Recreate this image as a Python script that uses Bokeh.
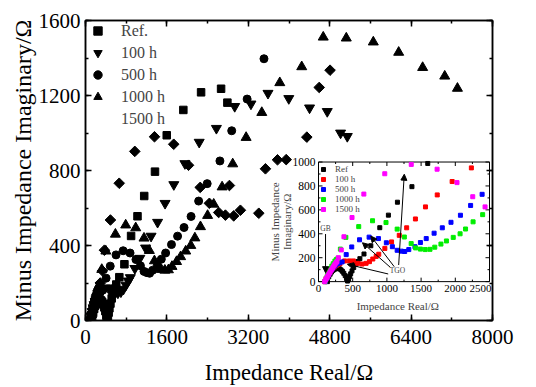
import math
from bokeh.plotting import figure
from bokeh.models import (Legend, LegendItem, LinearAxis, SingleIntervalTicker,
                          CustomJSTickFormatter, Range1d, Label, Arrow, NormalHead)
from bokeh.embed import file_html
from bokeh.resources import INLINE

# ---------------- data (Z' , -Z'') in ohm ----------------
ref_x = [130,150,170,190,210,230,250,270,290,310,330,350,370,390,410,425,440,455,470,490,515,545,575,605,665,765,896,1022,1154,1366,1597,1923,2272,2665,2789]
ref_y = [0,40,62,80,93,102,108,110,110,106,98,86,70,50,25,5,20,42,65,90,118,145,168,192,231,300,451,556,664,794,988,1123,1217,1236,1162]

h100_x = [90,110,130,150,170,190,210,235,260,285,314,382,451,510,573,637,696,745,794,843,881,970,1068,1181,1289,1417,1564,1736,1954,2235,2573,2933,3252,3587,3996,4404,4752,5014,5146]
h100_y = [0,25,48,68,85,100,112,124,134,143,150,173,173,173,153,147,153,167,189,211,229,278,332,387,450,524,625,725,837,951,1025,1142,1155,1212,1184,1134,1115,1000,982]

h500_x = [100,120,140,160,180,200,225,250,280,310,345,405,486,600,740,876,992,1080,1150,1210,1260,1320,1410,1490,1575,1690,1810,1937,2075,2224,2392,2642,2874,3177,3508]
h500_y = [0,28,52,74,92,108,124,138,150,158,165,226,290,350,372,360,325,292,262,255,252,268,292,327,360,405,450,496,555,637,730,851,1012,1181,1396]

h1000_x = [95,115,135,155,175,195,215,240,262,285,320,400,588,790,987,1150,1255,1355,1420,1490,1560,1630,1700,1790,1870,1970,2070,2150,2260,2400,2520,2685,2894,3157,3465,3819,4250,4673,5126,5657,6156,6627,7061,7311]
h1000_y = [0,30,58,84,108,130,150,172,185,195,272,370,460,509,494,439,373,318,282,272,268,270,288,314,340,370,400,440,500,560,620,712,835,976,1109,1268,1353,1511,1506,1485,1430,1349,1303,1238]

h1500_x = [90,105,120,135,150,165,180,195,210,225,240,255,270,290,333,372,490,663,969,1356,1734,2025,2255,2435,2618,2750,2829,2913,3045,3406,3537,3774,3945,4350,4594,4807]
h1500_y = [0,15,30,45,60,75,90,104,118,132,145,157,167,200,265,375,536,732,902,980,940,828,710,625,576,562,720,558,588,572,809,857,858,978,1243,1335]

main_labels = ["Ref.", "100 h", "500 h", "1000 h", "1500 h"]
inset_labels = ["Ref", "100 h", "500 h", "1000 h", "1500 h"]
inset_colors = ["#000000", "#ff0000", "#0000ff", "#00ee00", "#ff00ff"]

inset_xticks = [0, 500, 1000, 1500, 2000, 2500]
inset_yticks = [0, 200, 400, 600, 800, 1000]

# inset annotations (inset data coordinates)
gb_text = ("GB", 103, 446)
gb_arrow = (103, 398, 103, 75)
tgo_text = ("TGO", 1154, 89)
tgo_arrows = [(1019, 64, 422, 145), (1049, 120, 643, 325), (1107, 125, 765, 381), (1172, 139, 1254, 898)]

FONT = "Liberation Serif"

# ---------------- geometry ----------------
W, H = 536, 387
BL, BT, BB = 85, 20, 66
FW = 407
BR = W - BL - FW
FH = H - BT - BB
# inset frame in pixels, relative to the main frame (left, top, width, height)
IN_L, IN_T, IN_W, IN_H = 233, 142, 171, 120
ix0, ix1 = inset_xticks[0], inset_xticks[-1]
iy0, iy1 = inset_yticks[0], inset_yticks[-1]
ux = (ix1 - ix0) / IN_W          # ohm per pixel in the inset
uy = (iy1 - iy0) / IN_H
ix_start = ix0 - IN_L * ux
iy_start = iy0 - (FH - IN_T - IN_H) * uy

p = figure(width=W, height=H, x_range=Range1d(0, 8000), y_range=Range1d(0, 1600),
           output_backend="svg", toolbar_location=None,
           min_border_left=BL, min_border_right=BR, min_border_top=BT, min_border_bottom=BB)
p.extra_x_ranges = {"ix": Range1d(ix_start, ix_start + FW * ux)}
p.extra_y_ranges = {"iy": Range1d(iy_start, iy_start + FH * uy)}
p.xgrid.visible = False
p.ygrid.visible = False
p.outline_line_color = "black"
p.outline_line_width = 1.5
p.background_fill_color = "white"
p.border_fill_color = "white"

xt = SingleIntervalTicker(interval=1600, num_minor_ticks=2)
yt = SingleIntervalTicker(interval=400, num_minor_ticks=2)
p.xaxis.ticker = xt
p.yaxis.ticker = yt
p.xaxis.axis_label = "Impedance Real/Ω"
p.yaxis.axis_label = "Minus Impedance Imaginary/Ω"


def style_axis(ax, lab_size, title_size, standoff, title_standoff):
    ax.axis_line_width = 1.5
    ax.axis_line_color = "black"
    ax.major_tick_line_width = 1.5
    ax.minor_tick_line_width = 1.5
    ax.major_tick_in = 6
    ax.major_tick_out = 0
    ax.minor_tick_in = 3
    ax.minor_tick_out = 0
    ax.major_label_text_font = FONT
    ax.major_label_text_font_size = lab_size
    ax.major_label_text_color = "black"
    ax.axis_label_text_font = FONT
    ax.axis_label_text_font_size = title_size
    ax.axis_label_text_font_style = "normal"
    ax.axis_label_text_color = "black"
    ax.major_label_standoff = standoff
    ax.axis_label_standoff = title_standoff


style_axis(p.xaxis[0], "21px", "22.5px", 9, 13)
style_axis(p.yaxis[0], "21px", "24px", 5, 0)
empty = CustomJSTickFormatter(code="return ''")
for loc, tk in (("above", xt), ("right", yt)):
    ax = LinearAxis(ticker=tk, formatter=empty)
    style_axis(ax, "1px", "1px", 0, 0)
    p.add_layout(ax, loc)

series = [(ref_x, ref_y), (h100_x, h100_y), (h500_x, h500_y), (h1000_x, h1000_y), (h1500_x, h1500_y)]
markers = [("square", 7.5, 0), ("inverted_triangle", 10, 0), ("circle", 8, 0),
           ("triangle", 10, 0), ("square", 7.5, math.pi / 4)]
rends = []
for (sx, sy), (mk, sz, ang) in zip(series, markers):
    rends.append(p.scatter(sx, sy, marker=mk, size=sz, angle=ang,
                           fill_color="black", line_color="black"))
# legend proxy for the diamond (legend markers are drawn unrotated)
dia_proxy = p.scatter([], [], marker="diamond", size=11, fill_color="black", line_color="black")
leg_rends = rends[:4] + [dia_proxy]

leg = Legend(items=[LegendItem(label=l, renderers=[r]) for l, r in zip(main_labels, leg_rends)],
             location="top_left")
leg.border_line_color = None
leg.background_fill_alpha = 0
leg.label_text_font = FONT
leg.label_text_font_size = "16px"
leg.glyph_width = 25
leg.glyph_height = 21
leg.label_height = 21
leg.spacing = 1
leg.padding = 4
leg.margin = 0
leg.label_standoff = 11
p.add_layout(leg)

# ---------------- inset (drawn on the extra ranges) ----------------
IR = dict(x_range_name="ix", y_range_name="iy")
p.quad(left=[ix0], right=[ix1], bottom=[iy0], top=[iy1], fill_color="white",
       line_color="black", line_width=1, **IR)

tick_y = 4 * uy
tick_x = 4 * ux
minor_x = [(a + b) / 2 for a, b in zip(inset_xticks[:-1], inset_xticks[1:])]
minor_y = [(a + b) / 2 for a, b in zip(inset_yticks[:-1], inset_yticks[1:])]
seg = dict(line_color="black", line_width=1, **IR)
for ticks, ln in ((inset_xticks, tick_y), (minor_x, tick_y / 2)):
    p.segment(x0=ticks, y0=[iy0] * len(ticks), x1=ticks, y1=[iy0 + ln] * len(ticks), **seg)
    p.segment(x0=ticks, y0=[iy1] * len(ticks), x1=ticks, y1=[iy1 - ln] * len(ticks), **seg)
for ticks, ln in ((inset_yticks, tick_x), (minor_y, tick_x / 2)):
    p.segment(x0=[ix0] * len(ticks), y0=ticks, x1=[ix0 + ln] * len(ticks), y1=ticks, **seg)
    p.segment(x0=[ix1] * len(ticks), y0=ticks, x1=[ix1 - ln] * len(ticks), y1=ticks, **seg)

# x tick labels of the inset; the last one is kept inside the main frame (annotations are clipped)
for i, t in enumerate(inset_xticks):
    last = i == len(inset_xticks) - 1
    sx = IN_L + (t - ix0) / ux
    p.add_layout(Label(x=(FW - 1) if last else sx, y=FH - IN_T - IN_H, x_units="screen",
                       y_units="screen", y_offset=-3, text=str(t),
                       text_align="right" if last else "center",
                       text_baseline="top", text_font=FONT, text_font_size="11px",
                       text_color="black"))
for t in inset_yticks:
    p.add_layout(Label(x=ix0, y=t, x_offset=-3, text=str(t), text_align="right",
                       text_baseline="middle", text_font=FONT, text_font_size="11.5px",
                       text_color="black", **IR))

p.add_layout(Label(x=(ix0 + ix1) / 2 - 90, y=iy0, y_offset=-24, text="Impedance Real/Ω",
                   text_font=FONT, text_font_size="11px", text_align="center",
                   text_baseline="middle", **IR))
p.add_layout(Label(x=ix0, x_offset=-38, y=(iy0 + iy1) / 2, angle=math.pi / 2,
                   text="Minus Impedance\nImaginary/Ω", text_font=FONT, text_font_size="11px",
                   text_align="center", text_baseline="middle", text_line_height=1.0, **IR))

qrends = []
for (sx, sy), c in zip(series, inset_colors):
    keep = [(a, b) for a, b in zip(sx, sy) if ix0 <= a <= ix1 and iy0 <= b <= iy1]
    qrends.append(p.scatter([k[0] for k in keep], [k[1] for k in keep], marker="square", size=4,
                            fill_color=c, line_color=c, **IR))

qleg = Legend(items=[LegendItem(label=l, renderers=[r]) for l, r in zip(inset_labels, qrends)],
              location=(IN_L, FH - IN_T - 53))
qleg.border_line_color = None
qleg.background_fill_alpha = 0
qleg.label_text_font = FONT
qleg.label_text_font_size = "9px"
qleg.glyph_width = 10
qleg.glyph_height = 10
qleg.label_height = 10
qleg.spacing = 0
qleg.padding = 0
qleg.margin = 0
qleg.label_standoff = 7
p.add_layout(qleg)

p.add_layout(Label(x=gb_text[1], y=gb_text[2], text=gb_text[0], text_font=FONT, text_font_size="7.5px",
                   text_align="center", text_baseline="middle", **IR))
p.add_layout(Label(x=tgo_text[1], y=tgo_text[2], text=tgo_text[0], text_font=FONT, text_font_size="7.5px",
                   text_align="center", text_baseline="middle", **IR))
for (x0, y0, x1, y1) in [gb_arrow] + tgo_arrows:
    p.add_layout(Arrow(end=NormalHead(size=6, fill_color="black", line_color="black", line_width=1),
                       x_start=x0, y_start=y0, x_end=x1, y_end=y1, line_width=1,
                       line_color="black", **IR))

open("out.html", "w").write(file_html(p, INLINE))
